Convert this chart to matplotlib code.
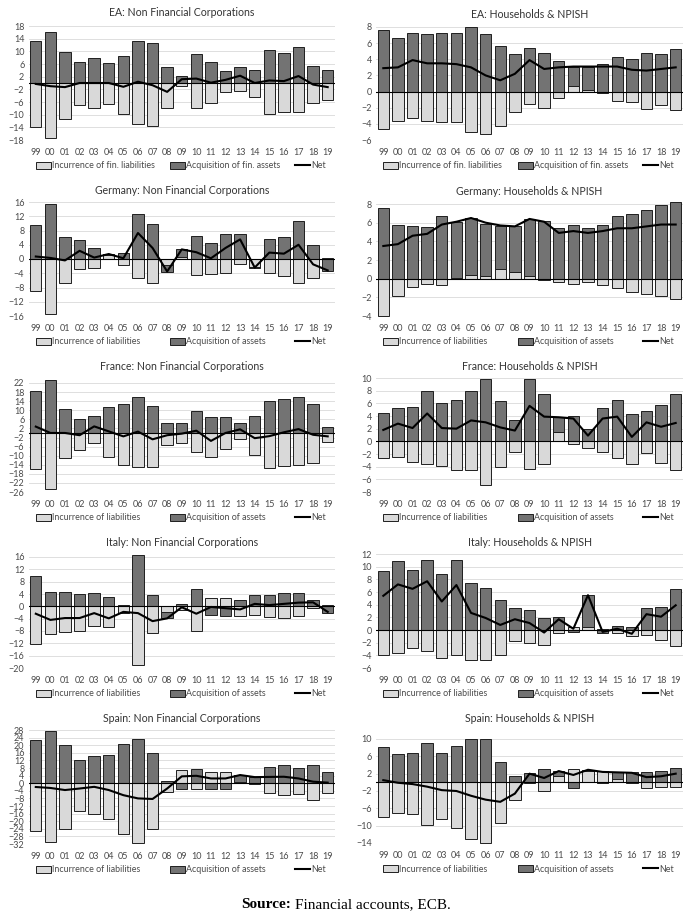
import matplotlib
matplotlib.use("Agg")
import matplotlib.pyplot as plt
from matplotlib.patches import Patch
from matplotlib.lines import Line2D
import numpy as np

years = ["99", "00", "01", "02", "03", "04", "05", "06", "07", "08", "09",
         "10", "11", "12", "13", "14", "15", "16", "17", "18", "19"]

ea_nfc_liab = [-13.8, -17.3, -11.5, -7.0, -7.9, -6.6, -9.8, -13.0, -13.6, -7.9, -1.0, -7.9, -6.4, -2.8, -2.6, -4.3, -9.7, -9.1, -9.1, -6.3, -5.5]
ea_nfc_assets = [13.3, 16.0, 9.8, 6.6, 7.8, 6.2, 8.6, 13.3, 12.7, 5.1, 2.1, 9.3, 6.5, 3.8, 5.0, 4.0, 10.4, 9.6, 11.3, 5.5, 4.1]
ea_nfc_net = [-0.3, -1.0, -1.3, 0.0, 0.0, 0.0, -1.2, 0.4, -0.7, -2.8, 1.2, 1.4, 0.1, 1.0, 2.3, 0.0, 0.8, 0.6, 2.2, -0.5, -1.3]

ea_hh_liab = [-4.65, -3.6, -3.3, -3.6, -3.8, -3.8, -5.0, -5.2, -4.3, -2.5, -1.5, -2.0, -0.75, 0.7, 0.2, -0.2, -1.2, -1.35, -2.1, -1.7, -2.3]
ea_hh_assets = [7.6, 6.6, 7.2, 7.1, 7.3, 7.2, 8.0, 7.1, 5.6, 4.7, 5.4, 4.8, 3.8, 2.4, 2.9, 3.4, 4.3, 4.0, 4.8, 4.7, 5.3]
ea_hh_net = [2.9, 3.0, 3.9, 3.5, 3.5, 3.4, 3.0, 2.0, 1.4, 2.2, 3.9, 2.8, 3.0, 3.1, 3.1, 3.1, 3.1, 2.7, 2.6, 2.8, 3.0]

de_nfc_liab = [-8.9, -15.3, -6.7, -2.9, -2.5, 1.0, -1.6, -5.3, -6.6, -1.8, 0.6, -4.5, -4.2, -3.9, -1.4, -2.2, -3.9, -4.7, -6.6, -5.4, 0.3]
de_nfc_assets = [9.6, 15.4, 6.1, 5.3, 3.0, 0.5, 1.8, 12.6, 9.7, -1.9, 2.2, 6.4, 4.4, 7.0, 7.1, -0.3, 5.7, 6.2, 10.6, 3.9, -3.5]
de_nfc_net = [0.7, 0.3, -0.4, 2.3, 0.4, 1.4, 0.2, 7.3, 3.1, -3.5, 2.7, 1.9, 0.2, 3.1, 5.5, -2.4, 1.8, 1.5, 4.0, -1.5, -3.2]

de_hh_liab = [-4.0, -1.9, -0.9, -0.6, -0.65, 0.05, 0.4, 0.3, 1.0, 0.7, 0.3, -0.1, -0.4, -0.55, -0.35, -0.65, -1.0, -1.4, -1.6, -1.9, -2.2]
de_hh_assets = [7.6, 5.8, 5.6, 5.5, 6.7, 6.05, 6.1, 5.6, 4.6, 4.9, 6.1, 6.2, 5.4, 5.7, 5.4, 5.8, 6.7, 6.9, 7.4, 7.9, 8.2]
de_hh_net = [3.5, 3.7, 4.6, 4.8, 5.8, 6.1, 6.5, 6.0, 5.7, 5.6, 6.4, 6.1, 4.9, 5.1, 4.9, 5.1, 5.4, 5.4, 5.6, 5.8, 5.8]

fr_nfc_liab = [-15.8, -24.5, -11.0, -7.5, -4.5, -10.8, -14.0, -15.2, -15.0, -5.4, -4.6, -8.6, -10.6, -7.0, -2.5, -9.8, -15.4, -14.5, -14.3, -13.4, -4.2]
fr_nfc_assets = [18.5, 23.5, 10.5, 6.2, 7.5, 11.5, 12.6, 15.8, 12.0, 4.5, 4.3, 9.6, 7.1, 7.0, 4.3, 7.5, 14.0, 14.8, 16.0, 12.6, 2.7]
fr_nfc_net = [2.8, 0.0, 0.0, -1.0, 2.9, 0.7, -1.5, 0.6, -2.8, -1.0, -0.3, 1.0, -3.5, 0.0, 1.6, -2.3, -1.4, 0.3, 1.7, -0.8, -1.5]

fr_hh_liab = [-2.7, -2.4, -3.3, -3.6, -3.9, -4.6, -4.6, -6.9, -4.1, -1.7, -4.3, -3.6, 1.4, -0.4, -1.0, -1.7, -2.6, -3.6, -1.9, -3.4, -4.5]
fr_hh_assets = [4.5, 5.2, 5.4, 8.0, 6.0, 6.6, 7.9, 9.9, 6.3, 3.4, 9.9, 7.5, 2.5, 4.0, 2.0, 5.3, 6.5, 4.3, 4.8, 5.7, 7.4]
fr_hh_net = [1.8, 2.8, 2.1, 4.4, 2.1, 2.0, 3.3, 3.0, 2.2, 1.7, 5.6, 3.9, 3.8, 3.6, 0.9, 3.6, 3.9, 0.7, 3.0, 2.3, 2.9]

it_nfc_liab = [-12.3, -9.0, -8.4, -7.9, -6.3, -6.8, -2.3, -19.0, -8.5, -1.8, -1.2, -8.0, 2.7, 2.6, -3.2, -2.9, -3.3, -3.7, -3.2, -0.7, 0.3]
it_nfc_assets = [9.8, 4.6, 4.7, 4.1, 4.2, 3.0, 0.4, 16.8, 3.7, -2.1, 0.8, 5.5, -2.8, -3.2, 2.2, 3.7, 3.7, 4.4, 4.4, 1.9, -2.1]
it_nfc_net = [-2.4, -4.4, -3.8, -3.8, -2.2, -3.9, -1.8, -2.2, -4.8, -3.9, -0.3, -2.4, -0.2, -0.6, -1.0, 0.8, 0.4, 0.8, 1.2, 1.3, -1.8]

it_hh_liab = [-3.9, -3.7, -2.9, -3.3, -4.4, -3.9, -4.8, -4.7, -3.9, -1.7, -2.0, -2.3, -0.5, 0.5, 0.4, 0.1, -0.4, -1.0, -0.8, -1.5, -2.6]
it_hh_assets = [9.3, 10.9, 9.5, 11.0, 8.9, 11.0, 7.4, 6.6, 4.7, 3.5, 3.1, 1.9, 2.1, -0.3, 5.1, -0.4, 0.6, 0.4, 3.5, 3.6, 6.5]
it_hh_net = [5.4, 7.2, 6.5, 7.7, 4.5, 7.1, 2.7, 1.9, 0.8, 1.7, 1.1, -0.4, 1.7, 0.2, 5.5, -0.3, 0.2, -0.6, 2.5, 2.1, 3.9]

es_nfc_liab = [-24.9, -30.8, -24.0, -14.8, -16.0, -19.0, -26.8, -31.5, -24.2, -4.4, 7.0, -3.3, 5.9, 5.8, 0.5, -0.3, -5.2, -6.1, -5.5, -9.0, -5.4]
es_nfc_assets = [22.8, 27.7, 20.2, 12.0, 14.3, 15.0, 20.6, 23.3, 16.0, 1.3, -3.3, 7.3, -3.3, -3.3, 3.9, 3.5, 8.6, 9.6, 8.0, 9.8, 5.7]
es_nfc_net = [-2.0, -2.5, -3.6, -2.8, -1.9, -3.6, -6.3, -8.0, -8.3, -2.8, 3.6, 3.9, 2.5, 2.5, 4.3, 3.2, 3.3, 3.4, 2.5, 0.8, 0.3]

es_hh_liab = [-7.9, -7.0, -7.2, -9.9, -8.4, -10.5, -13.1, -13.9, -9.3, -4.0, -0.2, -2.0, 1.4, 3.0, 2.6, 2.6, 0.7, -0.1, -1.2, -1.0, -1.1]
es_hh_assets = [8.1, 6.6, 6.7, 9.0, 6.7, 8.4, 10.0, 9.9, 4.6, 1.4, 2.2, 3.0, 1.3, -1.3, 0.3, -0.2, 1.6, 2.3, 2.3, 2.5, 3.2]
es_hh_net = [0.5, -0.1, -0.4, -1.0, -1.8, -2.0, -3.1, -4.0, -4.5, -2.6, 2.0, 1.0, 2.6, 1.7, 2.9, 2.4, 2.3, 2.2, 1.2, 1.4, 2.0]

fin_labels = ["Incurrence of fin. liabilities", "Acquisition of fin. assets", "Net"]
plain_labels = ["Incurrence of liabilities", "Acquisition of assets", "Net"]

LIGHT = "#d9d9d9"
DARK = "#737373"
EDGE = "#1f1f1f"
TXT = "#4a4a4a"

W, H = 685, 914
fig = plt.figure(figsize=(W / 100, H / 100), dpi=100)
plt.rcParams['font.family'] = "Lato"

# pixel layout: (x0, x1) per column
cols = {"L": (28.5, 335), "R": (376, 683)}


def panel(col, title_y, top, bottom, title, liab, assets, net, lo, hi, step, labels):
    x0, x1 = cols[col]
    ax = fig.add_axes([x0 / W, 1 - bottom / H, (x1 - x0) / W, (bottom - top) / H])
    liab = np.array(liab)
    assets = np.array(assets)
    x = np.arange(len(years))
    # excel-style stacking: positives stack up, negatives stack down
    base = np.where(assets >= 0, np.maximum(liab, 0), np.minimum(liab, 0))
    ax.bar(x, liab, 0.78, color=LIGHT, edgecolor=EDGE, lw=0.7, zorder=2, clip_on=False)
    ax.bar(x, assets, 0.78, bottom=base, color=DARK, edgecolor=EDGE, lw=0.7, zorder=2, clip_on=False)
    ax.axhline(0, color="black", lw=0.8, zorder=3)
    ax.plot(x, net, color="black", lw=1.5, zorder=4)

    ax.set_xlim(-0.5, len(years) - 0.5)
    ax.set_ylim(lo, hi)
    ax.set_yticks(np.arange(lo, hi + step / 2, step))
    ax.set_xticks(x)
    ax.set_xticklabels(years)
    ax.tick_params(axis="both", length=0, labelsize=6.5, colors=TXT)
    ax.tick_params(axis="x", pad=6)
    ax.tick_params(axis="y", pad=3)
    ax.grid(axis="y", color="#d9d9d9", lw=0.6, zorder=0)
    ax.set_axisbelow(True)
    for s in ax.spines.values():
        s.set_visible(False)

    fig.text((x0 + x1) / 2 / W, 1 - title_y / H, title, ha="center", va="center",
             fontsize=7.6, color="#333333")

    handles = [Patch(facecolor=LIGHT, edgecolor=EDGE, lw=0.7),
               Patch(facecolor=DARK, edgecolor=EDGE, lw=0.7),
               Line2D([0], [0], color="black", lw=1.5)]
    leg_y = bottom + 26
    ax.legend(handles, labels, loc="center", ncol=3, mode="expand", frameon=False,
              bbox_to_anchor=((x0 + 3.5) / W, 1 - leg_y / H, (x1 - x0 - 9) / W, 0),
              bbox_transform=fig.transFigure, fontsize=6.4, labelcolor=TXT,
              handlelength=1.7, handleheight=0.85, handletextpad=0.1, borderaxespad=0)
    return ax


panel("L", 13, 26, 140, "EA: Non Financial Corporations", ea_nfc_liab, ea_nfc_assets, ea_nfc_net, -18, 18, 4, fin_labels)
panel("R", 15, 27, 140, "EA: Households & NPISH", ea_hh_liab, ea_hh_assets, ea_hh_net, -6, 8, 2, fin_labels)
panel("L", 190, 202, 316, "Germany: Non Financial Corporations", de_nfc_liab, de_nfc_assets, de_nfc_net, -16, 16, 4, plain_labels)
panel("R", 192, 204, 316, "Germany: Households & NPISH", de_hh_liab, de_hh_assets, de_hh_net, -4, 8, 2, plain_labels)
panel("L", 367, 383, 492, "France: Non Financial Corporations", fr_nfc_liab, fr_nfc_assets, fr_nfc_net, -26, 22, 4, plain_labels)
panel("R", 367, 378, 492, "France: Households & NPISH", fr_hh_liab, fr_hh_assets, fr_hh_net, -8, 10, 2, plain_labels)
panel("L", 543, 557, 668, "Italy: Non Financial Corporations", it_nfc_liab, it_nfc_assets, it_nfc_net, -20, 16, 4, plain_labels)
panel("R", 543, 554, 668, "Italy: Households & NPISH", it_hh_liab, it_hh_assets, it_hh_net, -6, 12, 2, plain_labels)
panel("L", 718, 730, 844, "Spain: Non Financial Corporations", es_nfc_liab, es_nfc_assets, es_nfc_net, -32, 28, 4, plain_labels)
panel("R", 718, 739, 843, "Spain: Households & NPISH", es_hh_liab, es_hh_assets, es_hh_net, -14, 10, 4, plain_labels)

fig.text(291 / W, 1 - 905 / H, "Source:", ha="right", va="center", fontsize=11,
         family="Liberation Serif", weight="bold")
fig.text(295 / W, 1 - 905 / H, "Financial accounts, ECB.", ha="left", va="center",
         fontsize=11, family="Liberation Serif")

fig.savefig("out.png", dpi=100)
